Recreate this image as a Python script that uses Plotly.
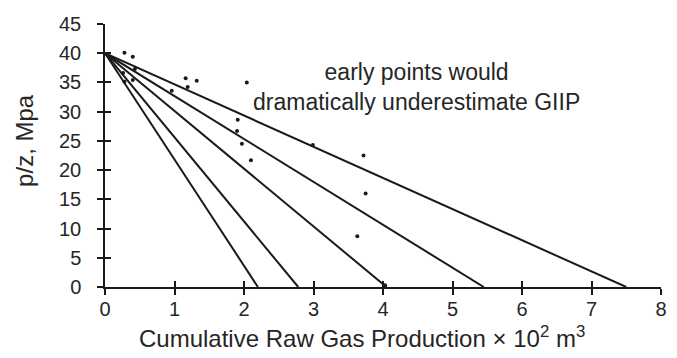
import plotly.graph_objects as go

# Data
p_initial = 40.0
intercepts = [2.2, 2.78, 4.05, 5.45, 7.5]
pts_x = [0.28, 0.40, 0.43, 0.26, 0.28, 0.40, 0.96, 1.16, 1.19, 1.32, 2.04,
         1.91, 1.90, 1.97, 2.10, 2.99, 3.72, 3.75, 3.63, 4.03]
pts_y = [40.1, 39.4, 37.3, 36.6, 35.1, 35.4, 33.6, 35.7, 34.2, 35.3, 35.0,
         28.6, 26.7, 24.5, 21.7, 24.3, 22.5, 16.0, 8.7, 0.3]
x_ticks = [0, 1, 2, 3, 4, 5, 6, 7, 8]
y_ticks = [0, 5, 10, 15, 20, 25, 30, 35, 40, 45]
x_title = "Cumulative Raw Gas Production \u00d7 10<sup>2</sup> m<sup>3</sup>"
y_title = "p/z, Mpa"
note = "early points would<br>dramatically underestimate GIIP"

FONT = "Liberation Sans, Arial, sans-serif"
INK = "#1a1a1a"
TXT = "#262626"

fig = go.Figure()
for g in intercepts:
    fig.add_trace(go.Scatter(x=[0, g], y=[p_initial, 0], mode="lines",
                             line=dict(color=INK, width=2), showlegend=False,
                             hoverinfo="skip"))
fig.add_trace(go.Scatter(x=pts_x, y=pts_y, mode="markers",
                         marker=dict(color=INK, size=4), showlegend=False))
# invisible trace to show the overlay axes (inner halves of crossing ticks)
fig.add_trace(go.Scatter(x=[None], y=[None], xaxis="x2", yaxis="y2",
                         showlegend=False))

axis_common = dict(showgrid=False, zeroline=False, showline=True,
                   linecolor=INK, linewidth=1.5, tickcolor=INK, tickwidth=1.5,
                   ticklen=6)
fig.update_layout(
    width=677, height=358,
    margin=dict(l=105, r=10, t=24, b=71),
    plot_bgcolor="white", paper_bgcolor="white",
    font=dict(family=FONT, size=20, color=TXT),
    xaxis=dict(range=[0, 8], tickvals=x_ticks, ticks="outside",
               tickfont=dict(size=20, color=TXT), ticklabelstandoff=-3,
               **axis_common),
    yaxis=dict(range=[0, 45], tickvals=y_ticks, ticks="outside",
               tickfont=dict(size=20, color=TXT), ticklabelstandoff=12,
               **axis_common),
    xaxis2=dict(range=[0, 8], tickvals=x_ticks, ticks="inside",
                overlaying="x", anchor="y2", side="bottom",
                showticklabels=False, **axis_common),
    yaxis2=dict(range=[0, 45], tickvals=y_ticks, ticks="inside",
                overlaying="y", anchor="x2", side="left",
                showticklabels=False, **axis_common),
    annotations=[
        dict(text=note, x=4.48, y=34.2, xref="x", yref="y", showarrow=False,
             font=dict(size=23, color=TXT), align="center"),
        dict(text=y_title, textangle=-90, x=-(105 - 23) / 562, y=(287 - 140) / 263,
             xref="paper", yref="paper", xanchor="center", yanchor="middle",
             showarrow=False, font=dict(size=24, color=TXT)),
        dict(text=x_title, x=(365 - 105) / 562, y=(287 - 337) / 263,
             xref="paper", yref="paper", xanchor="center", yanchor="middle",
             showarrow=False, font=dict(size=24, color=TXT)),
    ],
)

fig.write_html("out.html")
